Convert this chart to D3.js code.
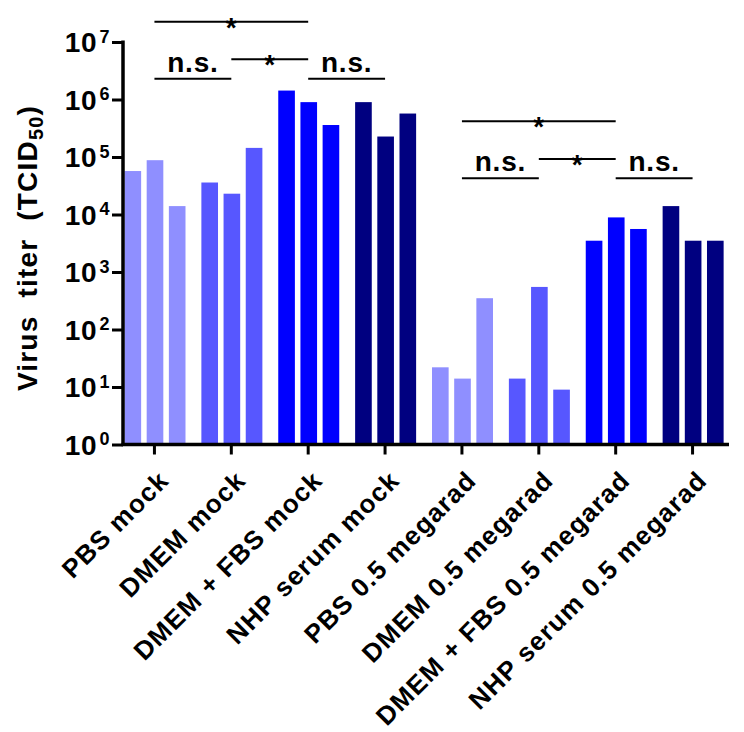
<!DOCTYPE html>
<html>
<head>
<meta charset="utf-8">
<script src="https://cdn.jsdelivr.net/npm/d3@7"></script>
<style>
  html, body { margin: 0; padding: 0; background: #fff; }
  svg { display: block; }
  text { font-family: "Liberation Sans", Arial, Helvetica, sans-serif; font-weight: bold; fill: #000; white-space: pre; }
</style>
</head>
<body>
<svg id="chart" width="744" height="732"></svg>
<script>
// ---- data ----
const categories = [
  "PBS mock", "DMEM mock", "DMEM + FBS mock", "NHP serum mock",
  "PBS 0.5 megarad", "DMEM 0.5 megarad", "DMEM + FBS 0.5 megarad", "NHP serum 0.5 megarad"
];
const replicate1 = [57000, 36000, 1430000, 900000, 22, 14, 3500, 14000];
const replicate2 = [88000, 23000, 900000, 227000, 14, 550, 8900, 3500];
const replicate3 = [14000, 144000, 360000, 570000, 350, 9, 5600, 3500];
const groupColors = ["#8f8fff", "#5757ff", "#0000ff", "#000080", "#8f8fff", "#5757ff", "#0000ff", "#000080"];
const yTickExponents = [0, 1, 2, 3, 4, 5, 6, 7];
const yTitle = "Virus  titer  (TCID";
const yTitleSub = "50";
// comparisons: [from category index, to category index, tier, label]
const compLeft = [[0, 1, 0, "n.s."], [1, 2, 1, "*"], [0, 2, 2, "*"], [2, 3, 0, "n.s."]];
const compRight = [[4, 5, 0, "n.s."], [5, 6, 1, "*"], [4, 6, 2, "*"], [6, 7, 0, "n.s."]];

// ---- layout ----
const svg = d3.select("#chart");
const axisX = 123;
const axisRight = 729;
const y = d3.scaleLog().domain([1, 1e7]).range([444.5, 42]);
const x = d3.scaleBand().domain(categories).range([116, 731]).padding(0);
const xInner = d3.scaleBand().domain([0, 1, 2]).range([8.5, 69.5]).paddingInner(0.25);

const reps = [replicate1, replicate2, replicate3];
const bars = [];
categories.forEach((c, i) => reps.forEach((r, j) => bars.push({ c, i, j, v: r[i] })));

svg.append("g").selectAll("rect").data(bars).join("rect")
  .attr("x", d => x(d.c) + xInner(d.j))
  .attr("width", xInner.bandwidth())
  .attr("y", d => y(d.v))
  .attr("height", d => y(1) - y(d.v))
  .attr("fill", d => groupColors[d.i]);

// y axis
const yAxis = d3.axisLeft(y).tickValues(yTickExponents.map(e => Math.pow(10, e)))
  .tickSize(11).tickFormat("");
const gy = svg.append("g").attr("transform", `translate(${axisX},0)`).call(yAxis);
gy.select(".domain").remove();
gy.selectAll(".tick line").attr("stroke", "#000").attr("stroke-width", 3);
svg.append("line").attr("x1", axisX).attr("x2", axisX)
  .attr("y1", y(1e7) - 1.5).attr("y2", y(1) + 1.5)
  .attr("stroke", "#000").attr("stroke-width", 3.5);

const yl = svg.append("g");
yTickExponents.forEach(e => {
  const ty = y(Math.pow(10, e));
  yl.append("text").attr("x", 97).attr("y", ty + 10).attr("text-anchor", "end")
    .attr("font-size", 28).attr("letter-spacing", 0.5).text("10");
  yl.append("text").attr("x", 99.5).attr("y", ty + 0.5)
    .attr("font-size", 18).text(e);
});

// x axis
const xAxis = d3.axisBottom(x).tickSize(10).tickFormat("");
const gx = svg.append("g").attr("transform", `translate(0,${y(1)})`).call(xAxis);
gx.select(".domain").remove();
gx.selectAll(".tick line").attr("stroke", "#000").attr("stroke-width", 3);
svg.append("line").attr("x1", axisX - 1.5).attr("x2", axisRight)
  .attr("y1", y(1)).attr("y2", y(1))
  .attr("stroke", "#000").attr("stroke-width", 3.5);

// x labels
svg.append("g").selectAll("text").data(categories).join("text")
  .attr("transform", d => `translate(${x(d) + x.bandwidth() / 2 + 16},${482}) rotate(-45)`)
  .attr("text-anchor", "end")
  .attr("font-size", 26)
  .attr("letter-spacing", 1.2)
  .text(d => d);

// y title
const yt = svg.append("text")
  .attr("transform", `translate(37,${248}) rotate(-90)`)
  .attr("text-anchor", "middle")
  .attr("font-size", 28)
  .attr("letter-spacing", 1.2);
yt.append("tspan").text(yTitle);
yt.append("tspan").attr("font-size", 20).attr("dy", 6).text(yTitleSub);
yt.append("tspan").attr("dy", -6).text(")");

// significance annotations
const tierOffset = [0, -19.4, -57];
function drawComps(comps, baseY) {
  const cx = i => x(categories[i]) + x.bandwidth() / 2;
  const g = svg.append("g");
  comps.forEach(([a, b, tier, label]) => {
    const ly = baseY + tierOffset[tier];
    g.append("line").attr("x1", cx(a)).attr("x2", cx(b))
      .attr("y1", ly).attr("y2", ly).attr("stroke", "#000").attr("stroke-width", 2);
    const mx = (cx(a) + cx(b)) / 2;
    if (label === "*") {
      g.append("text").attr("x", mx).attr("y", ly + 15).attr("text-anchor", "middle")
        .attr("font-size", 28).text(label);
    } else {
      g.append("text").attr("x", mx).attr("y", ly - 7).attr("text-anchor", "middle")
        .attr("font-size", 28).attr("letter-spacing", 0.8).text(label);
    }
  });
}
drawComps(compLeft, 78.7);
drawComps(compRight, 178.3);
</script>
</body>
</html>
